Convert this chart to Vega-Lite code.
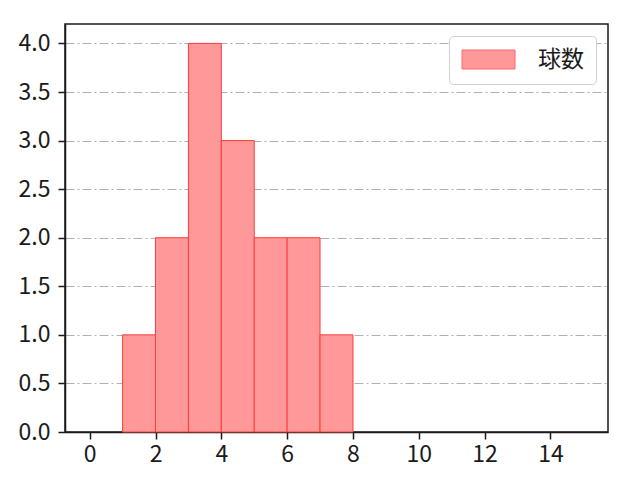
{
  "$schema": "https://vega.github.io/schema/vega-lite/v6.json",
  "width": 543,
  "height": 408,
  "autosize": "none",
  "padding": {"left": 65, "top": 24, "right": 32, "bottom": 48},
  "background": "white",
  "config": {
    "view": {"stroke": "#1a1a1a", "strokeWidth": 1.5},
    "font": "Noto Sans CJK JP",
    "axis": {
      "labelFont": "Noto Sans CJK JP",
      "labelFontSize": 23,
      "labelColor": "#1a1a1a",
      "domainColor": "#1a1a1a",
      "domainWidth": 1.5,
      "tickColor": "#1a1a1a",
      "tickWidth": 1.5,
      "tickSize": 7,
      "title": null
    },
    "axisX": {"labelPadding": 4},
    "axisY": {"labelPadding": 8}
  },
  "data": {
    "values": [
      {"bin_start": 1, "bin_end": 2, "count": 1, "series": "球数"},
      {"bin_start": 2, "bin_end": 3, "count": 2, "series": "球数"},
      {"bin_start": 3, "bin_end": 4, "count": 4, "series": "球数"},
      {"bin_start": 4, "bin_end": 5, "count": 3, "series": "球数"},
      {"bin_start": 5, "bin_end": 6, "count": 2, "series": "球数"},
      {"bin_start": 6, "bin_end": 7, "count": 2, "series": "球数"},
      {"bin_start": 7, "bin_end": 8, "count": 1, "series": "球数"}
    ]
  },
  "mark": {
    "type": "bar",
    "stroke": "#ff3b3b",
    "strokeWidth": 1,
    "fillOpacity": 1
  },
  "encoding": {
    "x": {
      "field": "bin_start",
      "type": "quantitative",
      "scale": {"domain": [-0.75, 15.75], "nice": false, "zero": false},
      "axis": {"values": [0, 2, 4, 6, 8, 10, 12, 14], "grid": false, "format": "d"}
    },
    "x2": {"field": "bin_end"},
    "y": {
      "field": "count",
      "type": "quantitative",
      "scale": {"domain": [0, 4.2], "nice": false},
      "axis": {
        "values": [0, 0.5, 1, 1.5, 2, 2.5, 3, 3.5, 4],
        "format": ".1f",
        "grid": true,
        "gridColor": "#b0b0b0",
        "gridWidth": 1,
        "gridDash": [9, 3, 2, 3]
      }
    },
    "y2": {"datum": 0},
    "fill": {
      "field": "series",
      "type": "nominal",
      "scale": {"range": ["#ff9999"]},
      "legend": {
        "title": null,
        "orient": "top-right",
        "offset": 12,
        "symbolType": "M-1,-0.905L4.05,-0.905L4.05,0.905L-1,0.905Z",
        "symbolSize": 441,
        "symbolStrokeColor": "#ff6b6b",
        "symbolStrokeWidth": 1,
        "labelFontSize": 23,
        "labelFont": "Noto Sans CJK JP",
        "labelColor": "#1a1a1a",
        "labelOffset": 54,
        "strokeColor": "#d0d0d0",
        "fillColor": "white",
        "cornerRadius": 4,
        "padding": 12
      }
    }
  }
}
